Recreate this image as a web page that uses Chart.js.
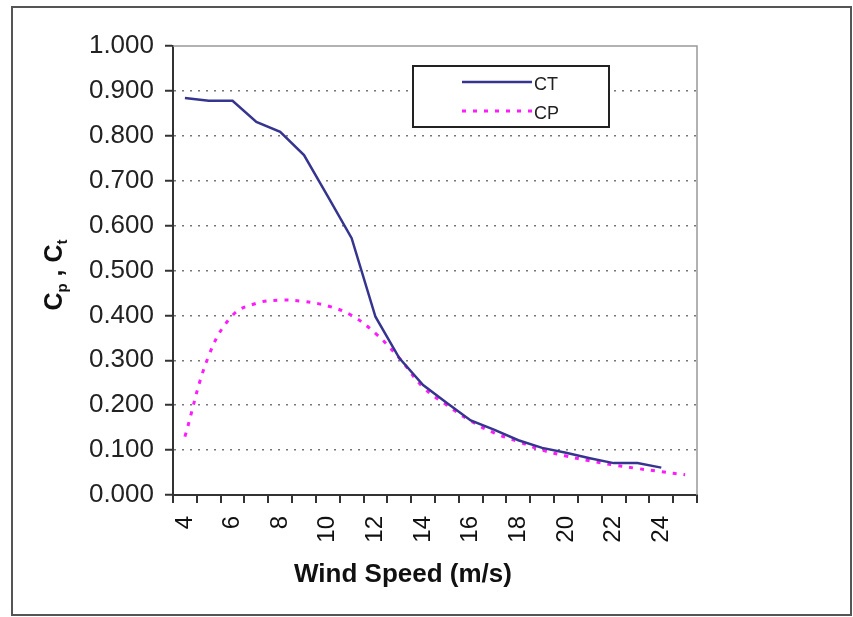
<!DOCTYPE html>
<html>
<head>
<meta charset="utf-8">
<title>Cp, Ct vs Wind Speed</title>
<script src="https://cdn.jsdelivr.net/npm/chart.js@4/dist/chart.umd.min.js"></script>
<style>
  html, body { margin: 0; padding: 0; background: #fff; }
  #wrap { width: 853px; height: 617px; }
</style>
</head>
<body>
<div id="wrap"><canvas id="chart" width="853" height="617"></canvas></div>
<script>
// wind speed categories (m/s)
const windSpeeds = [4, 5, 6, 7, 8, 9, 10, 11, 12, 13, 14, 15, 16, 17, 18, 19, 20, 21, 22, 23, 24, 25];

// thrust coefficient (no value at 25)
const ctValues = [0.884, 0.878, 0.878, 0.831, 0.809, 0.757, 0.665, 0.572, 0.397, 0.305, 0.245,
                  0.205, 0.166, 0.145, 0.122, 0.105, 0.094, 0.082, 0.071, 0.071, 0.061, null];

// power coefficient
const cpValues = [0.130, 0.310, 0.400, 0.427, 0.434, 0.431, 0.421, 0.400, 0.360, 0.305, 0.240,
                  0.200, 0.165, 0.138, 0.119, 0.100, 0.087, 0.076, 0.067, 0.059, 0.052, 0.045];

const yTicks = [0, 0.1, 0.2, 0.3, 0.4, 0.5, 0.6, 0.7, 0.8, 0.9, 1.0];

const FONT = "'Liberation Sans', Arial, sans-serif";

// frame, plot border, legend box and axis titles
const decor = {
    id: 'decor',
    beforeDraw(chart) {
        const ctx = chart.ctx;
        ctx.save();
        ctx.fillStyle = '#fff';
        ctx.fillRect(0, 0, chart.width, chart.height);
        ctx.restore();
    },
    afterDraw(chart) {
        const ctx = chart.ctx;
        const a = chart.chartArea;
        ctx.save();

        // outer frame
        ctx.strokeStyle = '#555';
        ctx.lineWidth = 2;
        ctx.strokeRect(12, 7, 839, 608);

        // plot area top and right edges
        ctx.strokeStyle = '#999';
        ctx.lineWidth = 1.5;
        ctx.beginPath();
        ctx.moveTo(a.left, a.top);
        ctx.lineTo(a.right, a.top);
        ctx.lineTo(a.right, a.bottom);
        ctx.stroke();

        // legend
        const lx = 413, ly = 66, lw = 196, lh = 61;
        ctx.fillStyle = '#fff';
        ctx.fillRect(lx, ly, lw, lh);
        ctx.strokeStyle = '#222';
        ctx.lineWidth = 2;
        ctx.strokeRect(lx, ly, lw, lh);
        const rows = [82, 111];
        chart.data.datasets.forEach((ds, i) => {
            const y = rows[i];
            ctx.strokeStyle = ds.borderColor;
            ctx.lineWidth = ds.borderWidth;
            ctx.setLineDash(ds.borderDash || []);
            ctx.beginPath();
            ctx.moveTo(462, y);
            ctx.lineTo(532, y);
            ctx.stroke();
            ctx.setLineDash([]);
            ctx.fillStyle = '#222';
            ctx.font = '18px ' + FONT;
            ctx.textBaseline = 'middle';
            ctx.textAlign = 'left';
            ctx.fillText(ds.label, 534, y + 3);
        });

        // x axis title
        ctx.fillStyle = '#111';
        ctx.font = 'bold 26px ' + FONT;
        ctx.textAlign = 'center';
        ctx.textBaseline = 'alphabetic';
        ctx.fillText('Wind Speed (m/s)', 403, 582);

        // y axis title with subscripts
        const parts = [
            { t: 'C', f: 'bold 25px ' + FONT, dy: 0 },
            { t: 'p', f: 'bold 15px ' + FONT, dy: 5 },
            { t: ' , ', f: 'bold 25px ' + FONT, dy: 0 },
            { t: 'C', f: 'bold 25px ' + FONT, dy: 0 },
            { t: 't', f: 'bold 15px ' + FONT, dy: 5 }
        ];
        let total = 0;
        parts.forEach(p => { ctx.font = p.f; p.w = ctx.measureText(p.t).width; total += p.w; });
        ctx.translate(62, 275);
        ctx.rotate(-Math.PI / 2);
        ctx.textAlign = 'left';
        let x = -total / 2;
        parts.forEach(p => {
            ctx.font = p.f;
            ctx.fillText(p.t, x, p.dy);
            x += p.w;
        });

        ctx.restore();
    }
};

const ctx = document.getElementById('chart').getContext('2d');
new Chart(ctx, {
    type: 'line',
    data: {
        labels: windSpeeds,
        datasets: [{
            label: 'CT',
            data: ctValues,
            borderColor: '#35358f',
            borderWidth: 2.5,
            pointRadius: 0,
            tension: 0,
            fill: false
        }, {
            label: 'CP',
            data: cpValues,
            borderColor: '#ff1aff',
            borderWidth: 3,
            borderDash: [4, 7],
            pointRadius: 0,
            tension: 0.4,
            fill: false
        }]
    },
    options: {
        responsive: false,
        animation: false,
        devicePixelRatio: 1,
        layout: { padding: { left: 0, top: 46, right: 156, bottom: 0 } },
        plugins: {
            legend: { display: false },
            tooltip: { enabled: false }
        },
        scales: {
            x: {
                type: 'category',
                offset: true,
                afterFit: scale => { scale.height = 122; },
                grid: {
                    offset: true,
                    drawOnChartArea: false,
                    drawTicks: true,
                    tickLength: 8,
                    color: '#333',
                    lineWidth: 2
                },
                border: { display: true, color: '#333', width: 2 },
                ticks: {
                    autoSkip: false,
                    maxRotation: 90,
                    minRotation: 90,
                    padding: 13,
                    color: '#111',
                    font: { family: FONT, size: 24 },
                    callback: function(value) {
                        const v = this.getLabelForValue(value);
                        return (v % 2 === 0 && v <= 24) ? String(v) : '';
                    }
                }
            },
            y: {
                min: 0,
                max: 1,
                afterFit: scale => { scale.width = 173; },
                afterBuildTicks: scale => { scale.ticks = yTicks.map(v => ({ value: v })); },
                grid: {
                    color: c => (c.tick && (c.tick.value === 0 || c.tick.value === 1)) ? 'rgba(0,0,0,0)' : '#777',
                    lineWidth: 1.5,
                    tickLength: 8,
                    tickColor: '#333',
                    tickWidth: 2,
                    tickBorderDash: []
                },
                border: { display: true, color: '#333', width: 2, dash: [2, 6] },
                ticks: {
                    padding: 11,
                    color: '#222',
                    font: { family: FONT, size: 26 },
                    callback: v => v.toFixed(3)
                }
            }
        }
    },
    plugins: [decor]
});
</script>
</body>
</html>
